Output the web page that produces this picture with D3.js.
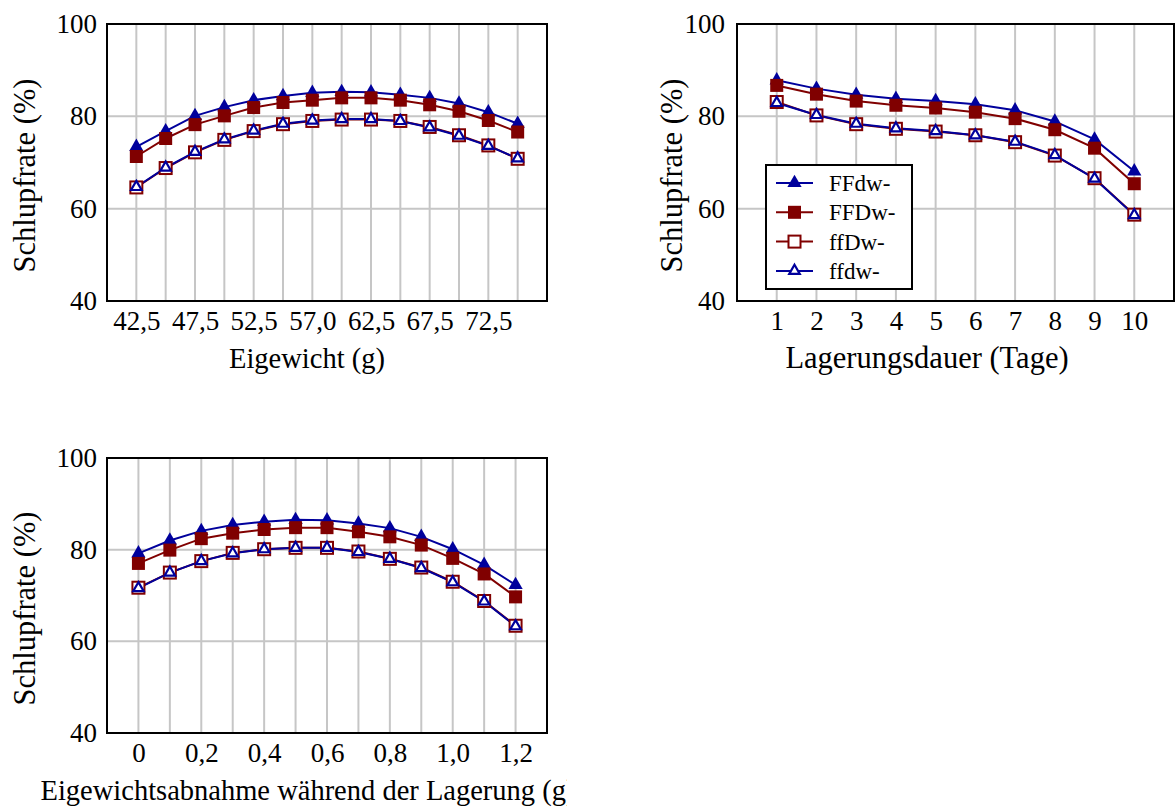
<!DOCTYPE html>
<html>
<head>
<meta charset="utf-8">
<script src="https://cdnjs.cloudflare.com/ajax/libs/d3/7.8.5/d3.min.js"></script>
<style>
html,body{margin:0;padding:0;background:#fff;}
svg{display:block;}
text{font-family:"Liberation Serif","Times New Roman",serif;fill:#000;}
</style>
</head>
<body>
<svg id="chart" width="1175" height="811"></svg>
<script>
// ---------------- data ----------------
const seriesNames = ["FFdw-", "FFDw-", "ffDw-", "ffdw-"];
const yTicks = [40, 60, 80, 100];
const yTitle = "Schlupfrate (%)";

// Panel 1: Eigewicht
const weight = [42.5, 45, 47.5, 50, 52.5, 55, 57.5, 60, 62.5, 65, 67.5, 70, 72.5, 75];
const weightTickLabels = ["42,5", "47,5", "52,5", "57,0", "62,5", "67,5", "72,5"];
const wFFdw = [73.4, 76.8, 80.1, 82.0, 83.5, 84.4, 85.1, 85.3, 85.2, 84.7, 84.0, 82.8, 80.9, 78.4];
const wFFDw = [71.3, 75.2, 78.2, 80.1, 81.9, 83.0, 83.5, 84.0, 84.0, 83.5, 82.5, 81.1, 79.1, 76.6];
const wffDw = [64.6, 68.8, 72.2, 74.9, 76.8, 78.3, 79.0, 79.3, 79.3, 79.0, 77.7, 75.9, 73.7, 70.8];
const wffdw = [64.7, 68.9, 72.3, 75.0, 76.9, 78.4, 79.1, 79.4, 79.4, 79.0, 77.6, 75.8, 73.6, 70.9];

// Panel 2: Lagerungsdauer
const days = [1, 2, 3, 4, 5, 6, 7, 8, 9, 10];
const dayTickLabels = ["1", "2", "3", "4", "5", "6", "7", "8", "9", "10"];
const dFFdw = [87.8, 86.0, 84.7, 83.8, 83.3, 82.6, 81.3, 78.9, 75.0, 68.1];
const dFFDw = [86.7, 84.8, 83.3, 82.4, 81.8, 80.9, 79.5, 77.1, 73.1, 65.4];
const dffDw = [83.1, 80.2, 78.3, 77.3, 76.7, 75.9, 74.4, 71.5, 66.6, 58.7];
const dffdw = [82.9, 80.3, 78.4, 77.4, 76.8, 75.9, 74.5, 71.6, 66.5, 58.6];

// Panel 3: Eigewichtsabnahme
const loss = [0, 0.1, 0.2, 0.3, 0.4, 0.5, 0.6, 0.7, 0.8, 0.9, 1.0, 1.1, 1.2];
const lossTickLabels = ["0", "0,2", "0,4", "0,6", "0,8", "1,0", "1,2"];
const lFFdw = [79.2, 82.0, 84.1, 85.4, 86.1, 86.5, 86.4, 85.7, 84.7, 82.8, 80.1, 76.7, 72.3];
const lFFDw = [77.0, 79.9, 82.4, 83.6, 84.4, 84.8, 84.8, 83.9, 82.8, 81.0, 78.1, 74.7, 69.7];
const lffDw = [71.7, 75.0, 77.5, 79.3, 80.1, 80.4, 80.4, 79.6, 78.0, 76.1, 73.0, 68.8, 63.4];
const lffdw = [71.6, 75.0, 77.5, 79.2, 80.1, 80.4, 80.4, 79.5, 78.0, 76.0, 72.9, 68.7, 63.3];

// ---------------- styles ----------------
const BLUE = "#00009c", RED = "#800000";
const styles = [
  {line: BLUE, marker: "triFilled"},
  {line: RED, marker: "sqFilled"},
  {line: RED, marker: "sqOpen"},
  {line: BLUE, marker: "triOpen"}
];

const svg = d3.select("#chart");
svg.append("defs").append("clipPath").attr("id", "clipLeft")
  .append("rect").attr("x", 0).attr("y", 0).attr("width", 567).attr("height", 811);

function drawMarker(g, type, x, y) {
  if (type === "triFilled") {
    g.append("path").attr("d", d3.symbol(d3.symbolTriangle, 88)())
      .attr("transform", `translate(${x},${y})`).attr("fill", BLUE);
  } else if (type === "triOpen") {
    g.append("path").attr("d", d3.symbol(d3.symbolTriangle, 48)())
      .attr("transform", `translate(${x},${y})`).attr("fill", "#fff")
      .attr("stroke", BLUE).attr("stroke-width", 2.2);
  } else if (type === "sqFilled") {
    g.append("rect").attr("x", x - 6.5).attr("y", y - 6.5).attr("width", 13).attr("height", 13)
      .attr("fill", RED);
  } else if (type === "sqOpen") {
    g.append("rect").attr("x", x - 6).attr("y", y - 6).attr("width", 12).attr("height", 12)
      .attr("fill", "#fff").attr("stroke", RED).attr("stroke-width", 2);
  }
}

function drawPanel(cfg) {
  const g = svg.append("g");
  const idx = cfg.xs.map((d, i) => i);
  const x = d3.scalePoint().domain(idx).range([cfg.left, cfg.right]).padding(1);
  const y = d3.scaleLinear().domain([40, 100]).range([cfg.bottom, cfg.top]);

  // grid
  const grid = g.append("g");
  grid.selectAll(".vg").data(idx).join("line")
    .attr("x1", d => x(d)).attr("x2", d => x(d))
    .attr("y1", cfg.top).attr("y2", cfg.bottom)
    .attr("stroke", "#c6c6c6").attr("stroke-width", 2);
  grid.selectAll(".hg").data(yTicks.filter(t => t > 40 && t < 100)).join("line")
    .attr("x1", cfg.left).attr("x2", cfg.right)
    .attr("y1", d => y(d)).attr("y2", d => y(d))
    .attr("stroke", "#c6c6c6").attr("stroke-width", 2);

  // y axis labels
  const yAxis = d3.axisLeft(y).tickValues(yTicks).tickSize(0).tickPadding(cfg.yPad);
  const ya = g.append("g").attr("transform", `translate(${cfg.left},0)`).call(yAxis);
  ya.select(".domain").remove();
  ya.selectAll("text").attr("font-size", 27).attr("font-family", "Liberation Serif, serif").attr("fill", "#000");

  // x axis labels
  const tickIdx = idx.filter(i => i % cfg.tickEvery === 0);
  const xAxis = d3.axisBottom(x).tickValues(tickIdx).tickSize(0).tickPadding(10)
    .tickFormat(i => cfg.tickLabels[i / cfg.tickEvery]);
  const xa = g.append("g").attr("transform", `translate(0,${cfg.bottom})`).call(xAxis);
  xa.select(".domain").remove();
  xa.selectAll("text").attr("font-size", 27).attr("font-family", "Liberation Serif, serif").attr("fill", "#000")
    .attr("dy", null).attr("y", 29).attr("dominant-baseline", "alphabetic");

  // series
  const line = d3.line().x((d, i) => x(i)).y(d => y(d));
  cfg.series.forEach((s, k) => {
    g.append("path").datum(s).attr("d", line).attr("fill", "none")
      .attr("stroke", styles[k].line).attr("stroke-width", 2);
  });
  cfg.series.forEach((s, k) => {
    const mg = g.append("g");
    s.forEach((v, i) => drawMarker(mg, styles[k].marker, x(i), y(v)));
  });

  // frame
  g.append("rect").attr("x", cfg.left).attr("y", cfg.top)
    .attr("width", cfg.right - cfg.left).attr("height", cfg.bottom - cfg.top)
    .attr("fill", "none").attr("stroke", "#000").attr("stroke-width", 2);

  // titles
  const xt = g.append("text").attr("x", cfg.xTitleX).attr("y", cfg.bottom + 67)
    .attr("text-anchor", "middle").attr("font-size", cfg.xTitleSize).text(cfg.xTitle);
  if (cfg.clip) xt.attr("clip-path", "url(#clipLeft)");
  g.append("text")
    .attr("transform", `translate(${cfg.yTitleX},${(cfg.top + cfg.bottom) / 2 + 13}) rotate(-90)`)
    .attr("text-anchor", "middle").attr("font-size", 30.5).text(yTitle);

  // legend
  if (cfg.legend) {
    const L = cfg.legend;
    const lg = g.append("g");
    lg.append("rect").attr("x", L.x).attr("y", L.y).attr("width", L.w).attr("height", L.h)
      .attr("fill", "#fff").attr("stroke", "#000").attr("stroke-width", 2);
    seriesNames.forEach((name, k) => {
      const cy = L.y + 18 + k * 29.3;
      lg.append("line").attr("x1", L.x + 10).attr("x2", L.x + 47).attr("y1", cy).attr("y2", cy)
        .attr("stroke", styles[k].line).attr("stroke-width", 2);
      drawMarker(lg, styles[k].marker, L.x + 28.5, cy);
      lg.append("text").attr("x", L.x + 63).attr("y", cy).attr("dy", "0.35em")
        .attr("font-size", 23).text(name);
    });
  }
}

drawPanel({
  left: 107, right: 547, top: 24, bottom: 301, yPad: 10,
  xs: weight, tickEvery: 2, tickLabels: weightTickLabels,
  series: [wFFdw, wFFDw, wffDw, wffdw],
  xTitle: "Eigewicht (g)", xTitleX: 307, xTitleSize: 28.5, yTitleX: 35
});
drawPanel({
  left: 737, right: 1174, top: 24, bottom: 301, yPad: 12,
  xs: days, tickEvery: 1, tickLabels: dayTickLabels,
  series: [dFFdw, dFFDw, dffDw, dffdw],
  xTitle: "Lagerungsdauer (Tage)", xTitleX: 927, xTitleSize: 30.5, yTitleX: 682,
  legend: {x: 766, y: 165, w: 146, h: 124}
});
drawPanel({
  left: 107, right: 547, top: 458, bottom: 733, yPad: 10,
  xs: loss, tickEvery: 2, tickLabels: lossTickLabels,
  series: [lFFdw, lFFDw, lffDw, lffdw],
  xTitle: "Eigewichtsabnahme während der Lagerung (g)", xTitleX: 308, xTitleSize: 28.5, yTitleX: 35,
  clip: true
});
</script>
</body>
</html>
